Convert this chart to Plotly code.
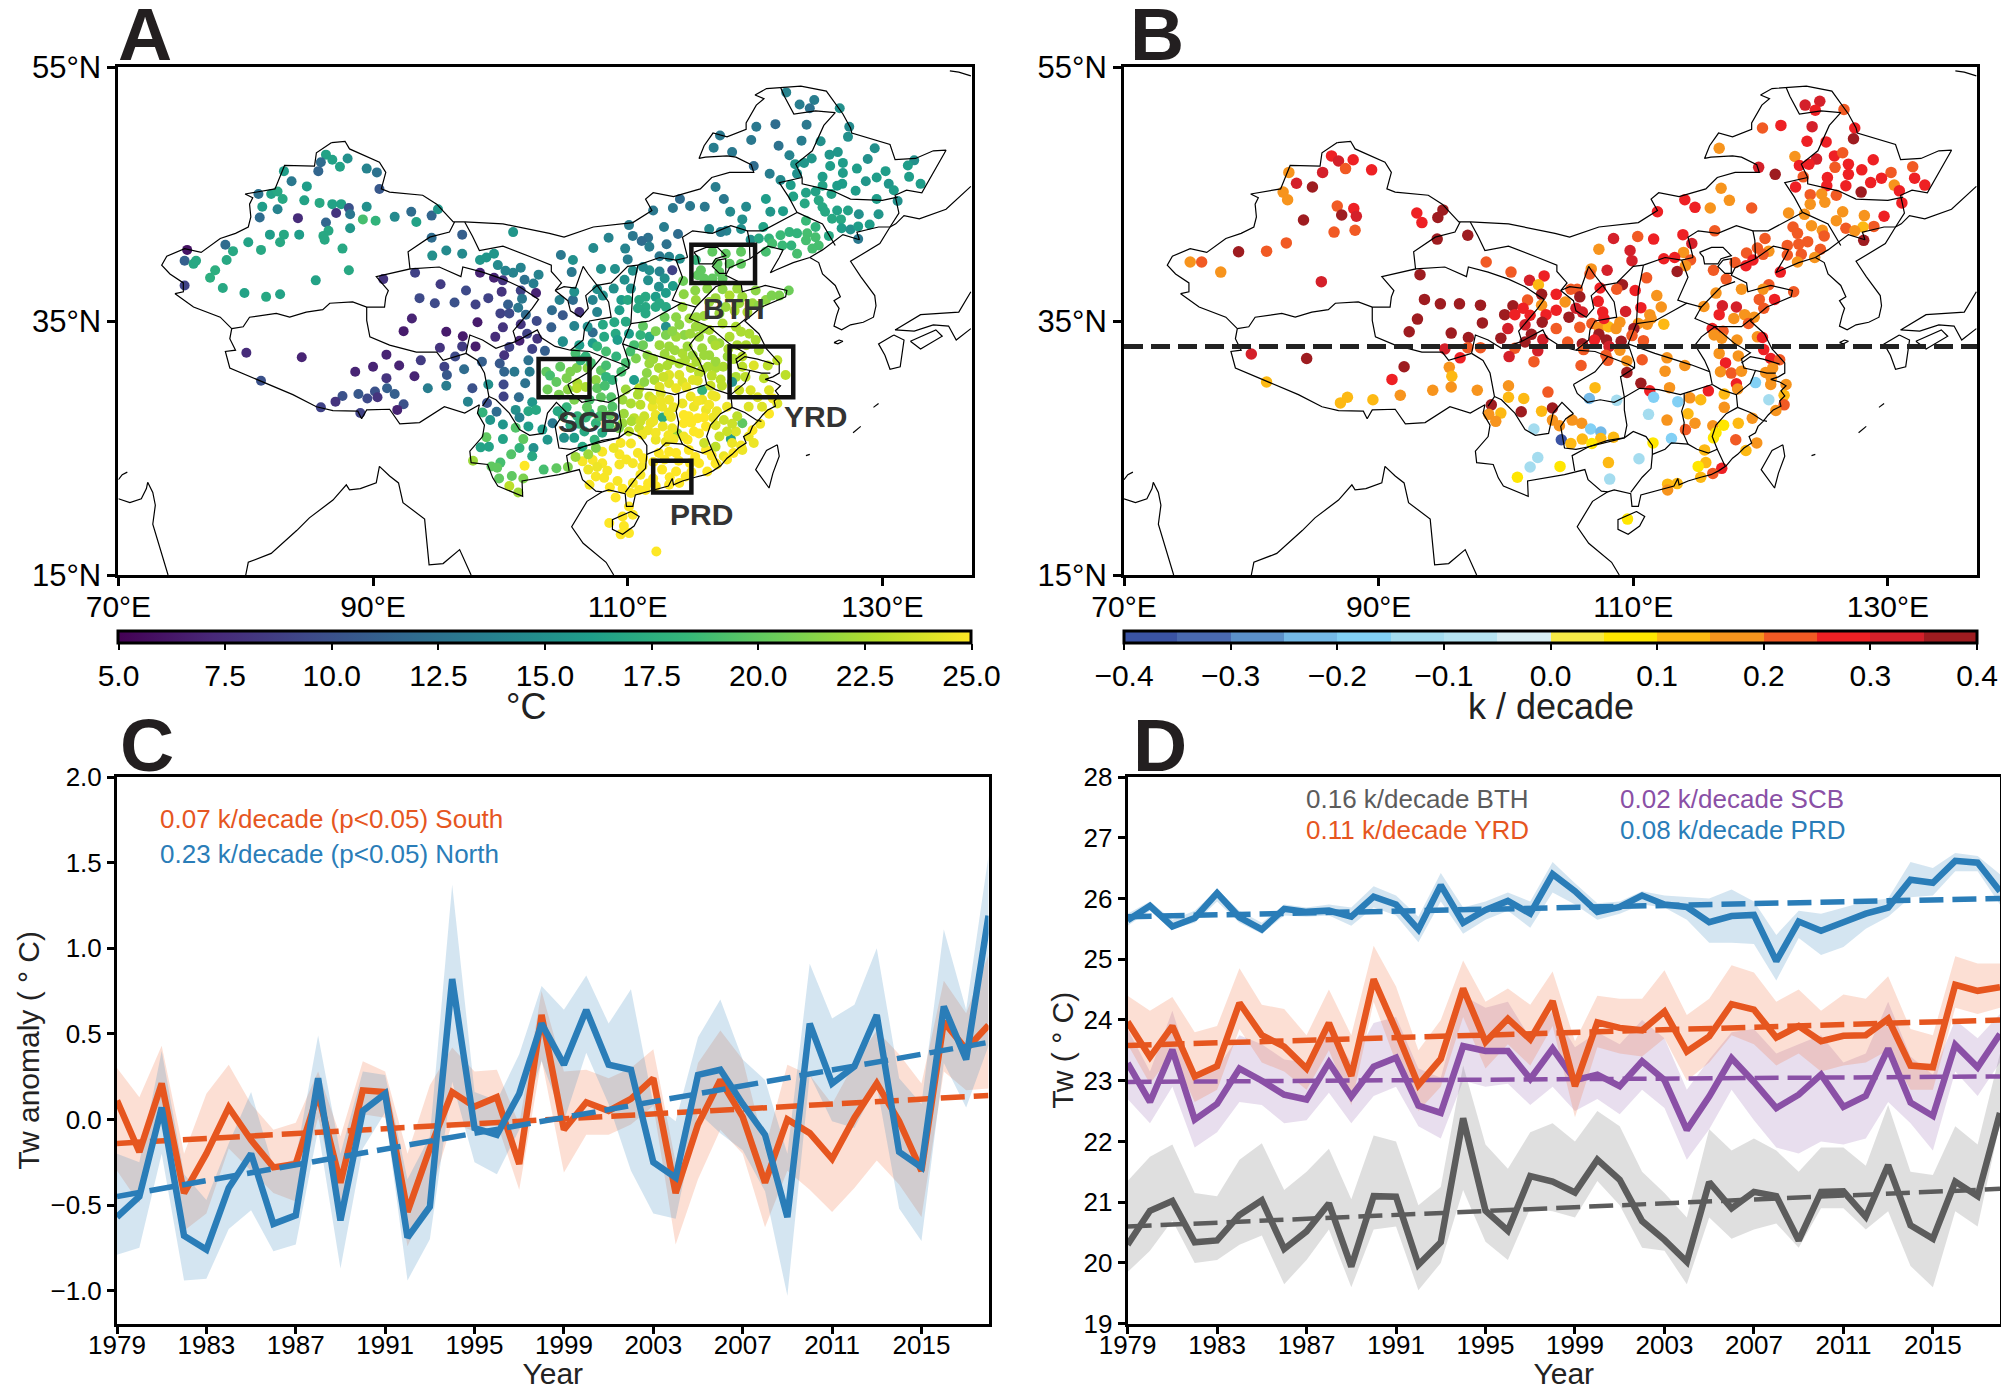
import plotly.graph_objects as go

W, H = 2001, 1390
YEARS = list(range(1979, 2019))

# ---------- panel A stations: (lon, lat, Tw in deg C) ----------
A_XINJIANG = [(86.3,48.1,16.5),(86.8,47.7,16.5),(88.0,47.8,15),(87.4,47.15,16.5),(85.9,47.5,12),(85.7,46.8,11.5),(89.5,47.0,14),(90.3,46.7,12.5),(90.5,45.4,10.5),(83.0,46.8,16),(83.6,46.0,13),(84.8,45.6,16),(81.0,45.0,12.5),(82.0,45.0,16.5),(82.5,45.2,17),(82.9,44.6,17),(84.6,44.5,16.5),(85.8,44.3,17),(86.8,44.2,16.5),(87.5,44.2,16.5),(88.1,43.9,10),(87.1,43.5,8),(88.2,43.4,13),(89.5,44.0,15),(81.3,44.0,16),(82.5,43.8,14),(81.1,43.15,12),(84.1,43.1,7.5),(86.3,42.75,11.5),(89.2,43.0,19),(90.2,42.9,18),(91.7,43.2,14.5),(93.0,43.6,12),(93.4,42.8,16.5),(94.6,43.3,11.5),(95.1,43.8,15.5),(81.9,41.8,16),(83.0,41.8,17),(82.7,41.2,17),(84.2,41.8,16),(86.5,42.1,17),(86.1,41.7,17),(86.2,41.4,17),(88.2,42.3,15.5),(87.6,40.7,17),(88.1,39.0,17),(85.5,38.2,16.5),(80.2,41.2,16.5),(81.2,40.6,17),(78.4,41.0,12),(79.0,40.5,17),(78.5,39.8,17),(75.4,40.6,6),(75.2,39.75,11),(75.9,39.5,17),(76.1,39.75,17),(77.6,39.0,17.5),(77.2,38.4,17.5),(75.2,37.8,9),(78.2,37.6,17),(79.9,37.2,16.5),(81.6,36.9,17),(82.7,37.1,16.5)]
A_PLATEAU = [(94.6,41.55,12),(97.0,41.8,11),(101.0,42.0,15.5),(95.75,40.55,14.5),(94.65,40.15,15),(97.0,40.3,14.5),(98.4,39.8,15.5),(98.9,40.0,15.5),(99.5,40.3,15.5),(99.8,39.4,14.5),(100.4,38.95,14),(101.0,38.8,14),(101.6,39.2,14),(101.9,38.25,12.5),(102.6,37.95,13.5),(103.0,38.65,14),(90.8,38.3,8),(93.3,38.8,9),(95.3,37.9,8.5),(98.4,38.8,7),(99.5,38.4,7),(100.2,38.2,8),(100.1,37.3,8),(97.3,37.4,9.5),(101.6,37.4,9),(102.8,37.2,7),(93.65,36.8,9.5),(94.85,36.4,9.5),(96.4,36.45,10),(98.05,36.3,9),(99.05,36.8,9),(100.6,36.3,11),(101.7,36.75,13),(101.4,36.05,13),(100.0,35.6,9),(100.7,35.6,9.5),(102.0,35.5,12),(102.85,35.0,9.5),(93.05,35.2,7),(98.2,34.9,6.5),(92.4,34.2,6.5),(95.75,34.15,6.5),(101.6,34.75,8),(100.2,34.5,8),(102.1,34.0,9),(97.05,33.8,6.5),(99.6,33.75,7.5),(101.5,33.45,7),(102.9,33.6,8),(95.25,32.9,8),(97.0,33.0,8.5),(98.05,33.0,6.5),(100.7,32.95,9),(102.5,32.8,9),(103.5,32.65,11),(100.3,32.3,8),(96.45,32.2,9.5),(98.55,31.8,11),(99.95,31.65,10.5),(102.2,31.9,12.5),(91.05,32.35,7),(90.0,31.4,7),(92.05,31.5,7),(88.6,31.0,7),(93.75,31.9,8.5),(95.6,31.4,9),(97.15,31.2,12),(100.3,31.0,11.5),(101.1,31.0,13),(102.3,31.0,13.5),(95.8,30.75,10.5),(93.25,30.65,7),(91.05,30.5,8),(80.05,32.5,7.5),(84.4,32.15,7),(81.2,30.3,10),(91.1,29.7,11),(91.7,29.25,11),(90.15,29.45,10),(95.75,29.9,13.5),(94.3,29.7,13.5),(97.8,29.7,10),(99.05,30.0,15),(100.25,30.0,9.5),(101.95,30.1,12.5),(88.85,29.25,10.5),(89.55,28.9,9.5),(90.35,29.0,8),(87.6,29.1,10),(87.05,28.65,8),(85.9,28.2,9),(92.4,28.45,10),(91.9,28.0,7),(89.0,27.75,9),(97.45,28.65,14),(98.95,28.55,10),(100.25,29.05,9),(101.45,29.0,12),(102.5,28.6,15.5)]
A_YUNNAN = [(98.6,27.8,18),(99.2,27.2,15.5),(100.2,26.85,15.5),(99.7,27.85,12),(101.2,28.0,15),(101.5,27.4,14),(102.2,27.9,17),(102.8,28.0,17),(102.2,26.7,16),(103.3,26.45,16),(101.2,26.6,19.5),(98.9,25.85,20),(100.2,25.7,16.5),(101.8,25.7,20),(98.45,25.05,16.5),(99.1,25.1,16.5),(101.5,25.0,18),(102.6,25.0,15),(103.7,25.65,15.5),(100.85,24.5,19.5),(102.5,24.35,17),(100.0,23.85,19),(99.3,23.55,20),(99.75,23.45,20),(97.85,24.0,22),(101.9,23.6,25),(103.4,23.3,19),(99.9,22.6,20),(100.9,22.8,20),(101.8,22.6,21),(100.7,22.0,23),(101.4,21.5,22)]
A_NORTHEAST = [(122.45,53.0,14),(123.5,52.05,13.5),(124.65,52.4,13.5),(124.3,51.75,12.5),(126.65,51.75,15),(120.1,50.3,13),(121.6,50.5,12),(124.05,50.45,13),(127.4,50.3,14.5),(127.3,49.5,15),(117.25,49.6,13),(119.7,49.25,13),(116.75,48.65,13.5),(121.85,48.8,12.5),(123.65,49.2,13.5),(125.15,49.15,15),(129.4,48.6,15),(118.2,48.3,13),(125.85,48.1,15.5),(126.5,48.3,15.5),(122.7,48.05,14),(128.85,47.75,15),(124.45,47.8,15.5),(123.85,47.45,15.5),(123.15,47.35,15.5),(126.9,47.45,16),(119.9,47.2,12),(125.9,47.2,16),(132.5,47.65,15),(132,47.25,16),(128,47,16),(130.25,46.8,16),(121.15,46.6,13.5),(126.9,46.65,16),(125.3,46.35,16),(129.55,46.3,16),(132.1,46.35,16),(128.7,46,15.5),(122,46.1,14.5),(126.85,45.8,16),(126.45,45.65,16),(125.3,45.65,16.5),(122.8,45.7,16),(123.3,46.6,15),(130.5,45.8,15.5),(133,45.8,16),(130.9,45.3,16),(127.9,45.25,16),(116.9,45.55,13.5),(124,45.1,16.5),(124.75,45.2,16.5),(126,45,16.5),(123,44.8,16.5),(120.85,44.6,16),(129.55,44.6,16),(117.55,44.6,13),(114.1,44.6,12),(131.2,44.45,15),(125,44.5,17),(123.9,44.25,17),(125.3,43.95,17),(113.55,43.9,13),(114.9,44.05,13),(116.05,44,13),(119.3,44,14.5),(118.05,43.6,14.5),(112,43.7,13),(121.2,43.6,15.5),(122.2,43.65,16),(125.5,43.6,17),(126.45,43.7,16.5),(127.3,43.7,16.5),(128.15,43.4,15),(119,43,15),(129.7,43.4,15.5),(126.05,43.05,17),(126.75,43,17),(124.75,42.4,18),(124,42.9,18.5),(129,42.6,16),(118.9,42.25,15),(120.65,42.4,16.5),(126.8,42.3,16),(127.5,42.2,15),(128.1,42.45,16),(116.4,42.25,14.5),(117.75,42.1,14),(119.65,41.4,15),(117.3,42,13.5),(125.8,41.7,17),(128.1,41.45,13),(122.7,42,18),(123.3,41.9,18),(122,41.75,18.5),(121.1,41.5,18),(120.3,41.5,17),(124.1,41.9,19),(124.75,41.6,19),(125,40.95,19),(124,41.35,19),(122.85,40.95,18),(122.15,40.95,18.5),(123.3,40.3,19),(124.5,40.7,19),(121.35,41.1,19),(120.85,40.45,19)]
A_NORTH = [(115.75,39,20),(115.5,38.6,20),(116.65,40.45,20),(117.7,40.3,20),(118.9,40.45,20),(117.05,39.5,20),(118,39.5,20),(118.9,39.5,20),(117.2,38.85,20),(116,38.35,20),(116.65,38.35,20),(117.45,38.35,20),(115.35,39.8,18),(114.35,38.15,20.5),(115.3,37.4,21.5),(114.4,37.1,21.5),(116.25,37.55,21.5),(117.45,37.5,21.5),(118.6,37.55,22),(120.05,37.4,21.5),(122.65,37.4,20.5),(121.9,37,21),(120.85,36.65,21.5),(119.8,36.4,22),(118.75,36.4,22),(117.7,36.1,22),(116.4,36.5,22),(115.35,36.65,22),(114.3,36.1,22),(113.8,35.3,21.5),(114.85,35.2,22),(114.05,34.7,21.5),(113,34.55,15),(113,33.9,21),(114.45,33.9,21.5),(113.8,33.75,22),(115.35,34.55,22),(116.4,34.3,22.5),(117.45,34.8,22.5),(118.5,34.55,22.5),(119.55,34,22.5),(118.9,34.15,22.5),(120.05,33.5,22.5),(118,33.75,22.5),(116.65,33.5,22),(115.6,33.75,22),(115.85,32.85,22),(117.2,33.25,22),(116.4,32.3,22),(115.1,32.3,22),(114.3,32.45,22.5),(112.5,33.1,22),(113.25,33,22),(111.7,33.75,17),(111,33.9,18),(110.1,34,16)]
A_LOESS = [(111.7,39,15),(110.4,38.95,15),(112.5,38.9,14),(112.9,38.35,15),(109.75,38.25,15),(108.9,37.55,15),(110.25,37.55,15),(111.6,38.2,15),(112.45,37.7,15),(107.6,37.5,15),(113,37.2,16),(112.2,36.9,16),(111.4,36.9,17),(110.9,36.65,17),(109.5,36.65,16),(110,36.65,17),(112.5,36.4,17),(113,36.1,17),(111.4,36.1,17),(112.2,36.1,17),(110.8,36,17),(109.35,35.85,16),(111.4,35.6,17),(107.25,36.65,14),(108.05,37,15),(107.6,35.7,14),(105.7,36.65,12),(104.9,35.45,10.5),(106.2,35.7,8),(105.8,34.6,14),(104.05,35.85,12),(104.65,36.65,14),(104,34.5,11),(107.25,34.1,12),(106.85,34.55,15),(108.05,34.7,17),(108.95,34.9,17),(109.85,34.95,17),(109.05,34,17),(108.15,33.75,17),(109.2,33.5,16),(107.25,33.25,16),(104.9,33.35,15),(106.2,33.1,16),(105.8,37.3,15),(105.6,38.85,13),(107.9,39.1,15),(109,39.1,15),(104.75,40.2,13),(105.7,39.8,15),(107.3,40.75,14.5),(109.8,40.7,14),(110,39.85,13.5),(108.5,41.55,14),(110.4,41.7,13),(111.6,41.55,12.5),(111.1,41.3,12),(111.7,40.85,13.5),(113.05,41.05,12.5),(110.1,42.55,13.5),(112.85,42.4,13.5),(113.95,41.85,12),(112.5,40.1,13),(113.25,40.05,14),(114.1,39.9,15),(111.2,39.25,14.5),(113.5,39,9),(113.55,37.75,16)]
A_CENTRAL = [(104.9,33.4,15),(105.9,32.45,19),(106,31.3,21),(106.85,31.3,21.5),(104.7,31.4,20),(103.6,31,20),(103.7,29.6,20.5),(106.05,30.1,22.5),(106,29.7,23),(106.7,29.8,22.5),(107.5,30.35,21.5),(107.9,31.1,20),(108.3,31.5,19),(107.1,31.7,19),(109.5,31,19),(108.8,30.35,18),(110.5,30.35,16),(109.85,31.7,19),(110.65,32.05,21),(111.55,32.3,21.5),(111.7,31.65,22),(112.45,31.3,22.5),(113.1,31.5,22.5),(114.05,31.65,22.5),(114.95,31.3,23),(113.25,30.75,24),(112.1,30.35,22.5),(114.05,30.75,24),(114.3,30.2,24),(113.25,30.1,24),(115.1,30.35,24),(115.85,31.15,22.5),(116.9,31.3,22.5),(116,32.3,22),(116.9,31.8,22),(117.85,32.2,22),(119,32.2,23),(119.9,31.5,24),(119,31.4,23),(121,31.5,23),(121.75,31.9,23),(118.5,30.6,22.5),(119.25,30.6,23),(120.7,30.5,23),(118.2,30.2,15),(122.4,30.75,23),(118.75,29.55,23.5),(119.65,29.55,24),(121.1,29.55,24),(120.2,29,24),(121.75,28.5,24),(119.5,28.25,24),(120.55,28.25,24),(121.1,27.7,25),(117.8,28.25,24.5),(116.9,29.05,24.5),(115.85,29.55,18),(114.95,29.05,24.5),(115.85,28.8,24.5),(116.65,29.15,24.5),(114.3,28.5,24.5),(115.2,28.25,24.5),(116.15,28,24.5),(114.8,27.5,25),(115.5,27.35,25),(114.4,26.95,25),(116.15,26.7,25),(115.6,26.15,25),(114.7,25.65,25),(113.9,26.15,22),(116.9,26.8,24),(117.55,27.2,23.5),(119,26.95,20),(118.1,25.7,16),(116.9,25.1,23),(117.55,24.35,24.5),(118.5,26.3,24),(119.5,25.9,24.5),(119.9,25.4,24.5),(119,24.85,24.5),(118.2,25.4,24.5)]
A_SOUTH = [(116.15,24.85,25),(115.6,23.8,25),(116.9,23.8,25),(116.25,23.15,25),(114.8,24.85,25),(113.8,24.6,25),(113.25,24.7,25),(112.45,24.6,25),(112.7,23.3,25),(113.8,23.15,25),(114.55,22.75,25),(112.2,22,25),(113.25,22.1,25),(114.05,22.25,25),(111.4,21.7,25),(110.25,21.45,25),(109.05,21.1,25),(110.1,20.4,25),(109.6,19.6,25),(110.4,19.75,25),(108.55,19.1,25),(109.7,18.85,25),(109.45,18.2,25),(110.1,18.3,25),(112.25,16.85,25),(106.45,23.95,24.8),(107.25,24.05,24.8),(108,24.7,24.8),(108,23.8,24.8),(109.35,24.5,24.8),(110.25,25.35,24.8),(109.45,25.4,24.8),(109.35,23.7,24.8),(110.4,23.8,24.8),(107.5,22.75,24.8),(108.15,22.65,24.8),(109.2,22.4,24.8),(110.4,22.25,24.8),(107,22.1,24.8),(111.15,23.55,24.8),(111,22.9,24.8),(109.85,29.6,22),(110.9,29.7,23),(109.6,28.8,22),(110.25,28.5,22.5),(111,28.4,23),(111.7,29.05,23.5),(112.6,29.3,24),(113.25,28.8,24.5),(111.95,28.25,24.5),(112.7,28.25,24.5),(109.7,27.7,22),(110.5,27.35,23),(111.3,27.5,23.5),(112.2,27.6,24.5),(112.75,27.4,17),(113.4,27.45,24.5),(109.6,26.95,22),(110.9,26.55,23.5),(111.8,26.95,24.5),(112.75,26.7,24.5),(113.5,26.55,24.5),(110.1,26.3,23),(111.15,26.05,24.5),(112.2,25.65,24.5),(113,25.5,24.5),(104.9,27.5,18),(106.05,27.5,18),(107,27.75,18),(108,28,20),(104.1,26.95,13),(105,25.8,15),(105.8,25.8,16),(105.5,26.8,17),(106.6,26.3,17),(107.4,25.65,18),(108,26.2,17),(108.55,26.8,19),(107.5,26.95,18),(106.45,25.1,17),(107.9,29,20),(107,28.8,19),(108.7,29,19.5),(108.8,28.25,19.5),(109.3,26.55,21)]
A_MID_FILL = [(112.2,34.2,21),(111.2,34.6,20),(112.9,35.3,20.5),(113.5,34.2,21.5),(114.9,34,22),(115.9,34.4,22),(116.9,33.1,22.5),(117.9,32.8,22.5),(118.6,33.1,22.5),(119.3,33.1,22.5),(120.3,32.7,22.5),(114.7,33,22),(113.7,32.7,22),(112.9,32.4,22),(111.2,33.1,20.5),(110.5,33.1,19),(110.2,32.6,19),(112,32,22),(113.4,31.9,22.5),(114.5,31.9,22.5),(115.4,31.8,22.5),(117.5,31.4,22.5),(118.3,32,22.5),(116.3,31.4,22.5),(115.6,30.9,23),(116.6,30.7,23),(117.3,30.4,23),(117.4,29.9,23),(116.5,29.9,23.5),(115.5,30.3,24),(112.8,30.6,23.5),(111.5,30.9,21.5),(111.3,30.2,21.5),(112.5,29.8,24),(113.8,29.7,24.5),(114.6,29.8,24.5),(110.8,29.2,22.5),(112,28.8,24),(112.6,28.7,24.5),(113.6,28.2,24.5),(113.2,27.8,24.5),(112,27.1,24.5),(110.3,27.1,22.5),(111,27.1,23.5),(111.6,26.4,24.5),(112.2,26.2,24.7),(113.2,26,24.7),(113.6,25.7,24.7),(114.4,27.6,25),(115,27,25),(115.5,28.7,24.7),(116.4,28.4,24.7),(117,27.9,24.5),(116.7,27.4,24.5),(116,27.4,25),(115.2,26.3,25),(114.4,25.9,24.7),(116,25.4,23.5),(117.2,25.9,23.5),(117.8,26.3,23.5),(118.2,26.9,23.5),(118.6,27.5,23)]
A_COAST_FILL = [(112,23.9,25),(112.9,24.1,25),(114,24,25),(114.9,23.8,25),(115.3,24.3,25),(116.6,24.4,25),(117,23.7,25),(115,23.1,25),(113.3,22.7,25),(112,22.6,25),(111.6,22.2,25),(110.9,21.7,25),(109.6,21.8,25),(108.6,21.9,25),(108.4,23.2,24.8),(106.9,23.3,24.5),(107.6,23.5,24.5),(109.9,24.1,24.8),(110.8,24.6,24.8),(111.2,24.2,25),(108.9,25,24.5),(107.5,25,21),(106.9,24.5,22),(105.9,24.3,22),(105.3,23.5,21),(104.4,23.4,20),(120.4,26.9,24.7),(119.8,26.4,25),(118.9,25.2,24.7),(118.3,24.6,25),(117.8,24.1,25),(121.4,28.9,24.7)]
A_BASIN_FILL = [(103.9,30.7,19),(104.4,30.2,20),(105.2,30.5,21),(105.5,31,21),(105.3,29.6,21.5),(104.6,29.2,21),(105.8,28.8,21),(106.8,28.2,20),(107.8,27.5,19),(108.6,27.6,20),(106.2,26.9,18),(106.7,27.4,18),(104.5,27.9,17),(105.2,28.2,18),(108.3,30.6,18),(107.6,29.7,20),(108.2,29.9,19),(108.3,32.6,19),(109.1,32.2,18),(107.6,33,18),(106.7,32.2,18),(106.3,31.9,18),(116.9,36.8,22),(118,37,22.5),(119,36.9,22),(117.2,35.6,22),(116,35.4,22),(118.4,35.8,22.5),(119.4,35.7,22.5),(120.3,36.2,21.5),(121.3,37,21),(115.4,35.3,22)]

# ---------- panel B stations: (lon, lat, trend in K per decade) ----------
B_WEST = [(86.3,48,.27),(86.85,47.6,.32),(88,47.7,.27),(87.4,47,.22),(89.45,46.9,.27),(85.6,46.7,.32),(82.95,46.7,.17),(83.55,45.85,.32),(84.8,45.55,.37),(82.5,45.15,.17),(82.85,44.55,.17),(86.75,44.05,.22),(88.05,43.85,.27),(87.1,43.35,.37),(88.25,43.25,.32),(84.1,42.95,.37),(86.5,42,.22),(88.15,42.15,.22),(82.75,41.15,.22),(81.2,40.5,.22),(79,40.45,.37),(75.2,39.65,.17),(76.1,39.65,.22),(77.6,38.85,.17),(85.5,38.1,.32),(93,43.5,.27),(93.4,42.75,.27),(95.05,43.75,.37),(94.65,43.15,.37),(94.6,41.45,.37),(97,41.75,.37),(98.45,39.65,.22),(93.25,38.65,.37),(100.4,38.85,.22),(101.85,38.2,.32),(103,38.55,.27),(102.55,37.85,.12),(93.6,36.7,.37),(94.85,36.35,.37),(96.35,36.35,.37),(98,36.25,.37),(102.8,37.1,.37),(101.7,36.65,.22),(100.55,36.2,.37),(102.8,36.25,.17),(101.35,36,.27),(99.9,35.5,.37),(100.7,35.5,.27),(101.9,35.45,.27),(103.15,35.5,.27),(102.85,34.9,.37),(93.05,35.15,.37),(98.15,34.85,.37),(92.4,34.15,.37),(95.7,34.05,.37),(101.5,34.7,.32),(100.15,34.4,.32),(97.05,33.7,.37),(99.6,33.65,.37),(102,33.95,.37),(101.5,33.35,.37),(102.9,33.55,.32),(95.2,32.8,.32),(97,32.9,.22),(98,32.9,.22),(100.7,32.85,.22),(102.5,32.65,.32),(100.25,32.2,.32),(102.2,31.8,.22),(80,32.4,.32),(84.35,32.05,.37),(96.4,32.1,.27),(92,31.4,.37),(95.55,31.35,.17),(95.75,30.65,.12),(91.05,30.4,.27),(81.2,30.2,.12),(95.7,29.8,.17),(94.25,29.55,.17),(97.75,29.55,.17),(91.7,29.15,.17),(100.2,29.9,.17),(100.2,29,.12),(101.4,28.9,.12),(103.3,29.4,.22),(87.55,29,.12),(87,28.55,.12),(89.55,28.8,.12),(98.85,28.4,.37),(99.6,27.75,.12),(98.65,27.65,.17),(99.2,27.1,.17),(101.2,27.85,.37),(102.8,27.9,.12),(102.2,26.5,-.12),(102.5,24.25,-.12),(101.9,23.5,-.12),(100.9,22.7,.08)]
B_NORTHEAST = [(123.5,52,.32),(124.65,52.3,.32),(124.3,51.6,.27),(126.55,51.65,.22),(120.15,50.2,.22),(121.6,50.4,.27),(124.05,50.3,.32),(127.4,50.2,.27),(127.3,49.35,.37),(123.65,49.15,.27),(125.15,49.1,.27),(116.75,48.6,.17),(122.7,47.95,.17),(125.8,48,.27),(126.45,48.25,.22),(128.85,47.7,.27),(124.4,47.75,.32),(123.8,47.35,.27),(123.05,47.25,.27),(126.9,47.35,.27),(125.85,47.1,.22),(119.85,47.1,.32),(127.95,46.9,.27),(130.25,46.7,.22),(131.95,47.15,.22),(121.15,46.55,.37),(126.9,46.55,.27),(123.35,46.35,.22),(125.25,46.3,.27),(129.5,46.25,.27),(132.1,46.25,.27),(128.65,45.9,.27),(125.2,45.65,.27),(126.7,45.65,.27),(122.75,45.55,.27),(130.5,45.7,.17),(132.9,45.7,.27),(116.9,45.45,.17),(130.9,45.25,.27),(127.9,45.15,.37),(123.9,44.95,.22),(124.8,45,.17),(125.95,44.9,.22),(114.05,44.55,.27),(117.55,44.5,.17),(123.9,44.2,.17),(125.05,44.35,.17),(131.1,44.3,.27),(114.85,43.95,.27),(116.05,43.9,.17),(119.3,43.9,.22),(111.9,43.6,.27),(122.2,43.5,.17),(123.45,43.4,.17),(126.45,43.6,.17),(128.15,43.3,.17),(129.7,43.25,.27),(125.95,42.9,.17),(122.55,42.4,.22),(124,42.5,.17),(124.85,42.15,.17),(126.7,42.3,.22),(128.9,42.45,.22),(128.05,42.4,.12),(127.4,42.1,.17),(116.4,42.1,.22),(113.9,41.8,.27),(122.9,41.9,.22),(125,41.7,.22),(120.35,41.5,.22),(108.45,41.5,.32),(110.35,41.65,.22),(111.6,41.45,.27),(128.1,41.35,.37),(114.6,41.1,.32),(107.3,40.65,.17),(122.1,40.95,.22),(123.7,41.25,.22),(123,41.05,.22),(119.75,40.75,.22),(120.65,40.5,.17),(124.7,40.65,.22)]
B_NORTH = [(109.75,40.55,.32),(113.95,40.4,.17),(118.9,40.35,.22),(122.1,40.2,.22),(123.2,40.25,.22),(120.2,40.25,.22),(109.9,39.75,.32),(112.4,39.9,.27),(113.25,40,.27),(114.5,39.8,.22),(118,39.6,.22),(119.4,39.8,.27),(118.85,39.35,.27),(124.25,40,.17),(122.9,39.65,.17),(114.1,39.35,.17),(106.7,39.1,.17),(107.95,39,.32),(106.6,38.7,.22),(113.45,38.9,.37),(116.3,39,.22),(121.55,38.85,.27),(111.05,38.4,.22),(117.3,38.3,.22),(109.15,37.85,.37),(108.7,37.5,.22),(107.4,37.6,.27),(110.15,37.4,.27),(120.65,37.85,.22),(120.2,37.5,.17),(118.5,37.5,.17),(116.5,37.2,.17),(122.6,37.3,.22),(105.1,37.5,.22),(105.6,37.5,.22),(105.8,36.9,.37),(111.85,37,.17),(104.65,36.5,.17),(103.95,37.1,.27),(107.25,36.55,.27),(119.9,36.7,.22),(121.1,36.7,.27),(112.2,36.1,.17),(115.55,36.15,.17),(117,36.2,.32),(118.1,36.1,.32),(109.4,35.75,.32),(110.6,36.05,.27),(120.25,36,.22),(107.6,35.7,.27),(103.95,35.85,.27),(105.5,36,.32),(106,35.7,.32),(116.75,35.5,.27),(111.3,35.5,.17),(108.95,34.9,.17),(111.4,35.2,.17),(118.75,35.5,.17),(119.5,35.3,.17),(117.9,35.2,.17),(104.95,35.3,.37),(110.4,34.8,.17),(111.1,34.75,.17),(112.4,34.75,.12),(119.05,34.8,.22),(103.95,34.4,.22),(105.8,34.5,.22),(106.75,34.8,.22),(107.3,34.5,.17),(108.05,34.55,.12),(107.7,35.2,.27),(108.65,34.4,.17),(116.2,34.4,.27),(117.05,34.2,.22),(110.05,34.4,.37)]
B_CENTRAL = [(116.35,33.9,.17),(116.95,33.65,.17),(118.15,33.5,.17),(119.75,33.75,.17),(120.15,33.7,.27),(104.85,33.35,.22),(107.3,33.95,.37),(106.95,33.5,.27),(107.9,33.5,.37),(109.05,33.4,.37),(109.9,33.85,.22),(110.8,33.45,.22),(106,33.2,.37),(108.1,33,.32),(106.1,32.75,.22),(120.25,32.75,.27),(116.75,32.45,.17),(118.25,32.25,.17),(120.8,32.05,.27),(107.85,32.3,.22),(108.95,32.7,.17),(121.5,31.95,.22),(108,31.9,.22),(110.7,31.95,.22),(112.65,32.1,.17),(109.5,31.85,.17),(105.9,31.5,.22),(117.25,31.7,.27),(114.05,31.5,.17),(120.95,31.3,.17),(112.5,31.05,.17),(116.85,31,.17),(117.7,30.9,.22),(118.5,31.05,.17),(109.5,30.95,.37),(120.4,30.95,.17),(120.85,30.5,.17),(110.6,30.1,.37),(119.6,30.15,-.2),(118.1,30.05,.27),(120.8,30,.17),(122,30,.17),(112.85,29.75,.17),(118.2,29.65,.17),(107,29.75,.12),(111.3,29.5,.27),(115.9,29.5,.27)]
B_SOUTH = [(111.6,29,-.2),(106.55,28.9,-.25),(108.7,28.75,-.15),(114.45,28.95,.17),(113.5,28.65,-.2),(115.3,28.8,.12),(117.15,29.25,.12),(121.85,29.15,.12),(120.65,28.8,-.15),(121.85,28.4,.22),(103.65,28.15,.37),(117.15,28.2,.17),(121.2,27.95,.17),(114.3,27.7,.12),(111.2,27.65,-.15),(119.35,27.35,.17),(105.2,27.2,.17),(105.95,26.95,.17),(103.65,27.2,.17),(104.2,26.75,.17),(112.65,27.2,.17),(114.85,26.95,.17),(116.25,26.75,.17),(117.1,26.8,.08),(118.25,26.95,.12),(106.65,26.5,-.2),(107.45,26.25,-.25),(114.1,26.45,.22),(116.5,26.2,.08),(116.3,25.8,.08),(104.35,25.65,-.38),(106,25.7,.12),(105.1,25.35,.12),(107.45,25.75,.12),(108.45,25.85,.12),(106.75,25.35,.08),(111.55,25.4,.08),(113,25.75,-.2),(118.05,25.65,.22),(119.7,25.4,.17),(115.6,24.85,.12),(118.85,24.8,.12),(104.25,23.55,.08),(108.05,23.85,.12),(110.45,24.15,-.15),(115.7,23.85,.12),(115.1,23.55,.08),(116.95,23.4,.27),(116.25,23,.22),(115.3,22.7,.12),(108.15,22.55,-.15),(112.7,22.15,.12),(113.45,22.2,.12),(112.7,21.7,.17),(109.55,19.4,.08)]

# ---------- base map lines (lon, lat) ----------
BORDER_WEST = [(86.75,49.05),(85.55,48.25),(85.4,47.2),(83.05,47.25),(82.3,45.4),(79.95,45),(80.55,44.7),(80.3,44.2),(80.4,43.2),(80.2,42.4),(79.2,41.9),(78,41.5),(76.5,40.4),(75.2,40.7),(73.8,40.1),(73.4,39.4),(74.05,38.7),(75.1,38),(75.1,37.3),(74.45,37.15),(75.9,36.1),(78,35.3),(78.9,34.4),(78.75,33.6),(79.2,32.7),(78.4,32.6),(78.75,31.3),(80.05,30.75),(81.25,30.2),(83.7,29.2),(85.55,28.25),(86.85,27.95),(88.8,27.9),(89.1,27.3),(89.5,28),(91.3,28.05),(92.1,26.9),(93.65,27),(95.6,28.25),(97.2,27.75),(98.35,28.4),(98.2,27.75),(98.75,26.8),(98.6,25.9),(97.6,24.75),(97.7,23.85),(99,23.7),(99.4,22.65),(99.8,22),(101.1,21.45),(101.75,21.2),(101.7,22.4),(103,22.6),(104.6,22.9),(106.2,23.3),(106.45,22.5),(107.5,21.6),(108,21.55)]
BORDER_NORTH = [(86.75,49.05),(87.8,49.15),(88.15,48.55),(89.6,47.9),(90.5,47.5),(91,46.7),(90.65,45.4),(91.3,45.15),(93.9,44.9),(95,44.2),(96.3,42.8),(97.2,42.8),(100.2,42.65),(103.85,41.9),(105,41.6),(107.3,42.4),(110.4,42.75),(111.9,43.7),(111.4,44.6),(112,45.1),(113.6,44.8),(115.7,45.4),(116.6,46.3),(118,46.7),(119.9,46.7),(119.7,47.3),(118.5,47.9),(117.8,48),(116.1,47.9),(115.6,47.8),(116,48.8),(116.7,49.8),(117.8,49.5),(119.3,50.1),(119.3,50.6),(120.1,52),(120.7,52.5),(120,52.8),(120.9,53.3),(123.6,53.5),(125.6,53.1),(126.9,51.3),(127.5,50.2),(127.6,49.8),(129,49.4),(130.6,48.9),(131,47.7),(132.6,47.8),(134,48.4),(135,48.45),(133.1,45.1),(131.9,45.3),(131,44.9),(131.3,43.5),(130.6,42.4),(129.7,42.4),(128,42),(128.2,41.4),(126.9,41.8),(125.3,40.6),(124.3,40)]
COAST_CHINA = [(124.3,40),(123,39.6),(121.6,39),(121.2,38.8),(121.9,40),(122.2,40.6),(121,40.9),(119.6,39.9),(118,39.2),(117.7,38.6),(118.9,38),(119,37.3),(120.8,37.8),(122.5,37.4),(122.4,36.9),(120.5,36.1),(119.2,35),(120.3,34),(120.9,32.8),(121.9,31.7),(121.9,30.9),(121.4,30.6),(120.8,30.4),(121.5,30.2),(122,29.9),(121.6,29.5),(121.9,29.1),(121.5,28.7),(121.6,28.3),(121,28),(120.6,27.6),(120.2,27.1),(119.8,26.7),(119.6,26.2),(119.1,25.9),(119.3,25.4),(118.7,25),(118.2,24.5),(117.8,24.2),(117.3,23.6),(116.7,23.2),(116.1,22.9),(115.3,22.7),(114.3,22.4),(113.6,22.1),(113.5,22.6),(113.2,22),(112,21.7),(110.6,21.3),(110.4,20.4),(109.9,20.4),(109.8,21.4),(108.5,21.7),(108,21.55)]
COAST_VIETNAM = [(108,21.55),(106.8,20.8),(105.6,18.8),(106.5,17.5),(108.3,16),(108.9,15)]
COAST_INDIA = [(73.9,15),(73.3,17),(72.7,19),(72.9,20.5),(72.7,21.5),(72.3,22.3),(72.2,21.8),(71.8,21),(70.9,20.7),(70,21)]
COAST_KUTCH = [(70,22.5),(70.3,22.9),(70.7,23.1)]
COAST_BENGAL = [(80,15),(80.2,16),(82,16.7),(84,18.5),(85,19.5),(86.85,20.9),(87.9,22.1),(88.15,21.7),(89,21.8),(90.25,22.25),(90.5,23.55),(91.3,22.8),(92,22.25),(92.35,20.7),(94.05,19.4),(94.4,15.8),(95.5,15.9),(96.8,17),(97.7,15)]
COAST_KOREA = [(124.3,40),(125,39.6),(125.3,38.7),(126.3,37.8),(126.7,36.9),(126.2,36.6),(126.6,36),(126.4,35.4),(126.2,34.6),(126.8,34.3),(127.5,34.7),(128.5,34.9),(129.3,35.3),(129.5,36.2),(129.4,37),(128.3,38.5),(127.5,39.7),(128.5,40.3),(129.8,41.1),(130.6,42.4)]
COAST_RUSSIA = [(130.6,42.4),(131.05,42.65),(131.7,43.3),(132.9,43.05),(135,43.8),(136.95,45.6)]
COAST_OKHOTSK = [(135.3,54.7),(136,54.6),(136.95,54.3)]
ISLE_HONSHU = [(136.95,37.3),(136,35.7),(133,35.5),(131,34.3),(132.5,34.2),(134,34.7),(135.2,34.6),(135.8,33.5),(136.95,34.4)]
ISLE_SHIKOKU = [(132.2,33.4),(134.2,34.3),(134.7,33.8),(133,32.8),(132.2,33.4)]
ISLE_KYUSHU = [(130.9,33.9),(131.7,33.5),(131.4,31.4),(130.6,31.2),(130.2,32.3),(129.7,33.2),(130.9,33.9)]
ISLE_CHEJU = [(126.2,33.3),(126.6,33.5),(126.9,33.4),(126.5,33.2),(126.2,33.3)]
ISLE_TAIWAN = [(121.75,25.25),(121.9,24.35),(121.4,23),(121.1,21.85),(120.05,23.3),(120.9,24.8),(121.75,25.25)]
ISLE_HAINAN = [(110.25,20),(110.9,19.6),(110.5,18.85),(109.6,18.2),(108.8,18.6),(108.8,19.35),(110.25,20)]
ISLE_RYUKYU = [(127.7,26.2),(128.3,26.7)]
ISLE_AMAMI = [(129.3,28.2),(129.7,28.5)]
ISLE_SAKISHIMA = [(124,24.4),(124.3,24.5)]
YANGTZE = [(118.5,31.7),(119.2,32.2),(120.2,32),(121.5,31.6)]

P_XJ_TIBET = [(78.9,34.4),(79.8,34.55),(80.3,35.3),(82.4,35.6),(83.45,35.3),(84.75,35.7),(86.05,35.9),(86.6,36.4),(88.4,36.5),(89.5,36.1),(90.9,36.1),(91,36.9),(91.2,37.4),(90.25,38.5),(92.9,39.1),(92.75,40.45),(94.45,41.6),(96,42),(96.4,42.8)]
P_GANSU_QINGHAI = [(92.9,39.1),(95.2,39.25),(96.9,38.5),(97.05,39.25),(98.6,38.85),(100.2,38.3),(101.5,37.7),(103,36.7),(102.5,36),(102,35.4),(101,34.2),(101.25,33.4)]
P_GANSU_IM = [(97.2,42.8),(97.8,41.7),(98.35,40.55),(100.2,40.9),(102.5,40),(104,39.4),(104,38.9),(104.8,38),(104.3,37.4)]
P_TIBET_QINGHAI = [(89.5,36.1),(89.5,35.05),(89.75,33.75),(91.3,33.1),(93.4,32.55),(95,32.55),(95.5,31.9),(97.3,32.45)]
P_TIBET_SICHUAN = [(97.3,32.45),(98.2,31.9),(98.75,30.9),(99.1,29.05),(98.6,28.3)]
P_QINGHAI_SICHUAN = [(97.3,32.45),(97.6,33.9),(98.6,33.5),(99.65,32.85),(101.25,33.4)]
P_SICHUAN_GANSU = [(101.25,33.4),(102.9,34.3),(103.2,33.7),(104.3,33),(105.5,32.7)]
P_SICHUAN_SHAANXI = [(105.5,32.7),(107,32.6),(108,32.2)]
P_SICHUAN_YUNNAN = [(99.1,29.05),(99.65,28.8),(100.7,27.75),(101.5,26.45),(102.3,26),(103.35,26.15),(103.7,27.75),(104.4,28.6),(105.3,27.7)]
P_NINGXIA = [(104.3,37.4),(105,37.7),(105.9,37.6),(106.5,39.3),(106.9,38.7),(107.6,37.8),(106.7,37),(106.9,36),(106.3,35.3),(105.5,35.8),(105.3,36.6),(104.3,37.4)]
P_GANSU_SHAANXI = [(105.5,32.7),(106.5,33.5),(106.6,34.3),(107,35),(108.7,35.3),(108.5,36.5),(107.6,37.8)]
P_SHAANXI_IM = [(107.6,37.8),(108.7,38),(110,39.3),(110.8,39.4)]
P_SHAANXI_SHANXI = [(110.8,39.4),(110.4,37.4),(110.25,34.8)]
P_SHANXI_IM = [(110.8,39.4),(112.5,40),(113.8,39.8),(114.7,40)]
P_HEBEI_IM = [(114.7,40),(114.3,41.6),(115.1,42.1),(116.65,41.9),(118.1,42.5),(119.4,42.1),(120.6,42.1),(123.3,43.55)]
P_HEBEI_LIAONING = [(119.4,42.1),(119.55,41.35),(119.6,39.9)]
P_HEBEI_SHANXI = [(113.8,39.8),(114.3,38.45),(113.5,36.65),(114.2,36.4)]
P_SHANXI_HENAN = [(110.25,34.8),(111.7,35),(113.5,36),(114.2,36.4),(115.35,36.1),(116.15,36.9),(116.9,37.7),(118,38.1)]
P_HENAN_SHANDONG = [(115.35,36.1),(114.85,35.2),(116.4,34.55),(118.5,34.55),(119.3,35.2)]
P_BEIJING = [(115.2,40.4),(116.15,40.8),(117.05,40.8),(117.7,40.15),(116.9,39.9),(116.65,39.5),(115.6,39.5),(115.5,40.05),(115.2,40.4)]
P_TIANJIN = [(117.05,39.8),(117.7,39.9),(117.7,38.75),(117.2,38.75),(116.65,39.3),(117.05,39.8)]
P_HENAN_ANHUI = [(116.4,34.55),(115.35,33.75),(114.85,33.1),(115.6,31.9),(116,31)]
P_HENAN_HUBEI = [(110.25,34.8),(109.6,33.2),(111.7,32.45),(114.55,31.55),(116,31),(116.2,30)]
P_HUBEI_WEST = [(109.6,33.2),(110.1,31.7),(110.1,31.3),(109,30.6),(109.3,29)]
P_CHONGQING = [(105.3,30),(106.3,30.6),(107,31),(108,32.2),(109.6,31.6),(110.1,31.3)]
P_CHONGQING_S = [(105.3,30),(105.6,29.3),(106.4,28.6),(107.4,28.8),(108.5,28.6),(109.3,29)]
P_GUIZHOU = [(105.3,27.7),(104.7,27.3),(104.3,26.7),(104.6,25),(105.5,24.9),(106.5,25.1),(108,25.6),(109.3,25.8),(109.5,26.8),(109.3,28),(109.3,29)]
P_GUANGXI = [(105.4,23.2),(105.2,24.4),(106.5,25.1),(109.3,25.8),(110,26.3),(111,25.9),(111.5,25.2),(111.5,24.5),(111.4,23.4),(110.7,22.7),(109.8,21.5)]
P_GUANGDONG = [(111.5,24.5),(112.5,24.9),(113,25.4),(114.3,25.3),(115,24.9),(115.9,24.6),(116.6,24.9),(117.2,23.6)]
P_HUNAN_JIANGXI = [(114.3,25.3),(113.9,26.2),(114,27),(113.8,27.9),(114,28.5),(114,29.3)]
P_HUBEI_S = [(109.3,29),(110.5,29.7),(112,29.6),(113.7,29.2),(114,29.3),(115.5,29.8),(116.2,30)]
P_JIANGXI_FUJIAN = [(116.6,24.9),(116.2,25.9),(116.5,26.8),(117.3,27.7),(118.2,28.2)]
P_JIANGXI_ANHUI = [(118.2,28.2),(118.1,29.2),(116.9,29.6),(116.2,30)]
P_ZHEJIANG_FUJIAN = [(118.2,28.2),(119.2,27.8),(120.1,27.2),(120.5,27.1)]
P_ZHEJIANG_ANHUI = [(118.1,29.2),(119.2,30.1),(119.6,31.1),(120.5,30.9),(121.2,30.9)]
P_ANHUI_JIANGSU = [(119.6,31.1),(118.7,31.3),(118.5,32),(119.2,32.5),(118,33.2),(116.4,34.55)]
P_IM_HEILONG = [(122,53.4),(122.3,52.7),(123.05,51.3),(124.75,51.55),(126.3,51.4),(125.4,50.4),(124.5,48.4),(123.2,47.35),(123.7,46.3)]
P_IM_JILIN = [(123.7,46.3),(121.9,45.9),(122.65,44.75),(123.3,43.55)]
P_JILIN_HEILONG = [(123.7,46.3),(123.7,45.8),(126.1,45.25),(127.5,44.6),(130,44.5),(131.2,44.75)]
P_LIAONING_JILIN = [(123.3,43.55),(125.3,42.65),(126.3,40.95)]

PANEL_LINES = [BORDER_WEST,BORDER_NORTH,COAST_CHINA,COAST_VIETNAM,COAST_INDIA,COAST_KUTCH,COAST_BENGAL,COAST_KOREA,COAST_RUSSIA,COAST_OKHOTSK,ISLE_HONSHU,ISLE_SHIKOKU,ISLE_KYUSHU,ISLE_CHEJU,ISLE_TAIWAN,ISLE_HAINAN,ISLE_RYUKYU,ISLE_AMAMI,ISLE_SAKISHIMA,YANGTZE,P_XJ_TIBET,P_GANSU_QINGHAI,P_GANSU_IM,P_TIBET_QINGHAI,P_TIBET_SICHUAN,P_QINGHAI_SICHUAN,P_SICHUAN_GANSU,P_SICHUAN_SHAANXI,P_SICHUAN_YUNNAN,P_NINGXIA,P_GANSU_SHAANXI,P_SHAANXI_IM,P_SHAANXI_SHANXI,P_SHANXI_IM,P_HEBEI_IM,P_HEBEI_LIAONING,P_HEBEI_SHANXI,P_SHANXI_HENAN,P_HENAN_SHANDONG,P_BEIJING,P_TIANJIN,P_HENAN_ANHUI,P_HENAN_HUBEI,P_HUBEI_WEST,P_CHONGQING,P_CHONGQING_S,P_GUIZHOU,P_GUANGXI,P_GUANGDONG,P_HUNAN_JIANGXI,P_HUBEI_S,P_JIANGXI_FUJIAN,P_JIANGXI_ANHUI,P_ZHEJIANG_FUJIAN,P_ZHEJIANG_ANHUI,P_ANHUI_JIANGSU,P_IM_HEILONG,P_IM_JILIN,P_JILIN_HEILONG,P_LIAONING_JILIN]

# ---------- panel C ----------
C_SOUTH = [0.11,-0.19,0.21,-0.43,-0.2,0.07,-0.12,-0.28,-0.26,0.15,-0.37,0.17,0.16,-0.54,-0.17,0.16,0.075,0.13,-0.26,0.61,-0.06,0.10,0.05,0.12,0.24,-0.43,-0.03,0.23,0.015,-0.37,0,-0.08,-0.23,0.01,0.21,-0.01,-0.30,0.57,0.41,0.55]
C_SOUTH_HI = [0.30,0.13,0.43,-0.2,0.15,0.32,0.09,-0.06,-0.02,0.28,-0.1,0.34,0.28,-0.2,0.2,0.42,0.28,0.29,-0.03,0.75,0.28,0.29,0.24,0.3,0.41,-0.25,0.33,0.52,0.35,-0.17,0.32,0.26,0.09,0.33,0.52,0.38,0.21,0.81,0.62,0.96]
C_SOUTH_LO = [-0.30,-0.49,0.03,-0.65,-0.55,-0.17,-0.30,-0.43,-0.48,0.01,-0.52,0.03,0.01,-0.74,-0.45,-0.02,-0.07,-0.02,-0.41,0.35,-0.31,-0.09,-0.09,-0.03,0.08,-0.73,-0.35,-0.06,-0.2,-0.63,-0.3,-0.41,-0.54,-0.4,-0.24,-0.38,-0.57,0.28,0.17,0.18]
C_NORTH = [-0.57,-0.45,0.07,-0.68,-0.76,-0.40,-0.2,-0.61,-0.56,0.24,-0.59,0.05,0.15,-0.69,-0.51,0.82,-0.05,-0.09,0.15,0.56,0.32,0.64,0.32,0.29,-0.25,-0.34,0.26,0.29,0.09,-0.09,-0.57,0.56,0.21,0.31,0.61,-0.19,-0.28,0.66,0.35,1.19]
C_NORTH_HI = [-0.2,-0.25,0.4,-0.32,-0.47,-0.14,0.16,-0.28,-0.23,0.49,-0.2,0.28,0.26,-0.35,-0.1,1.37,0.16,0.11,0.38,0.78,0.64,0.84,0.56,0.76,0.09,-0.01,0.48,0.7,0.35,0.23,-0.2,0.91,0.59,0.67,1.0,0.24,0.09,1.11,0.64,1.54]
C_NORTH_LO = [-0.79,-0.75,-0.2,-0.94,-0.93,-0.64,-0.53,-0.77,-0.73,-0.06,-0.87,-0.17,0.04,-0.94,-0.7,0.22,-0.25,-0.32,-0.06,0.34,-0.01,0.39,0.09,-0.3,-0.55,-0.58,0.04,-0.08,-0.18,-0.42,-1.03,0.26,-0.01,-0.05,0.2,-0.52,-0.71,0.33,0.07,0.43]
C_TREND_YEARS = [1979, 2018]
C_TREND_SOUTH = [-0.14, 0.14]
C_TREND_NORTH = [-0.45, 0.45]

# ---------- panel D ----------
D_PRD = [25.64,25.88,25.54,25.68,26.09,25.69,25.49,25.83,25.78,25.8,25.7,26.03,25.9,25.49,26.22,25.6,25.81,25.96,25.75,26.4,26.12,25.78,25.86,26.05,25.9,25.86,25.61,25.71,25.73,24.97,25.62,25.47,25.61,25.75,25.85,26.31,26.26,26.62,26.59,26.12]
D_PRD_HI = [25.75,25.95,25.65,25.8,26.15,25.8,25.6,25.9,25.85,25.9,25.85,26.2,26.05,25.7,26.42,25.85,25.95,26.1,25.95,26.6,26.25,25.92,25.95,26.12,26.05,26.02,26.0,26.15,25.95,25.4,25.8,25.75,25.85,25.95,26.0,26.6,26.5,26.75,26.7,26.4]
D_PRD_LO = [25.55,25.8,25.5,25.6,25.95,25.6,25.42,25.72,25.7,25.72,25.55,25.85,25.72,25.28,25.95,25.42,25.65,25.8,25.52,26.1,25.9,25.65,25.75,25.9,25.85,25.65,25.27,25.27,25.25,24.65,25.35,25.07,25.2,25.5,25.7,26.02,26.05,26.45,26.45,25.9]
D_YRD = [23.97,23.39,23.9,23.07,23.24,24.28,23.75,23.56,23.2,23.95,23.08,24.67,23.83,22.93,23.36,24.52,23.64,24.02,23.68,24.31,22.91,23.96,23.87,23.83,24.14,23.48,23.73,24.26,24.17,23.71,23.9,23.65,23.74,23.75,24.02,23.25,23.22,24.58,24.48,24.54]
D_YRD_HI = [24.4,24.15,24.38,23.8,23.9,24.85,24.25,24.18,23.75,24.5,23.75,25.22,24.55,23.5,24.0,24.98,24.3,24.52,24.25,24.8,23.65,24.4,24.35,24.35,24.82,24.08,24.35,24.9,24.78,24.3,24.5,24.15,24.42,24.35,24.72,23.85,23.75,25.05,24.93,24.93]
D_YRD_LO = [23.6,22.95,23.45,22.65,22.85,23.85,23.3,23.15,22.85,23.5,22.6,24.3,23.3,22.5,22.9,24.05,23.2,23.6,23.25,23.9,22.4,23.55,23.45,23.4,23.7,23.0,23.3,23.75,23.6,23.25,23.45,23.15,23.25,23.3,23.5,22.85,22.85,24.2,24.1,24.2]
D_SCB = [23.29,22.65,23.51,22.36,22.62,23.2,23.0,22.77,22.69,23.3,22.74,23.23,23.38,22.59,22.47,23.57,23.49,23.49,23.03,23.53,23.01,23.1,22.91,23.32,23.01,22.19,22.74,23.37,22.98,22.55,22.77,23.1,22.57,22.75,23.53,22.64,22.42,23.59,23.22,23.77]
D_SCB_HI = [23.85,23.15,24.15,23.0,23.2,23.75,23.6,23.35,23.3,23.85,23.3,23.95,24.05,23.2,23.05,24.4,24.2,24.3,23.7,24.15,23.55,23.8,23.6,24.0,23.7,22.85,23.35,23.8,23.85,23.45,23.6,23.75,23.3,23.45,24.3,23.4,23.1,24.0,23.7,24.1]
D_SCB_LO = [22.7,22.3,22.9,21.9,22.15,22.65,22.6,22.3,22.35,22.8,22.3,22.75,22.9,22.25,22.05,23.0,22.9,22.95,22.6,22.9,22.5,22.7,22.45,22.85,22.55,21.7,22.2,22.85,22.35,21.9,21.8,22.0,21.95,22.05,22.65,22.3,21.85,23.15,22.75,23.3]
D_BTH = [20.3,20.86,21.02,20.34,20.37,20.79,21.03,20.23,20.52,20.98,19.94,21.1,21.09,19.97,20.34,22.38,20.86,20.53,21.43,21.34,21.16,21.7,21.37,20.69,20.38,20.02,21.33,20.9,21.17,21.1,20.37,21.17,21.18,20.76,21.61,20.62,20.4,21.34,21.1,22.47]
D_BTH_HI = [21.35,21.75,21.95,21.15,21.1,21.7,21.97,21.2,21.5,21.88,21.05,22.1,22.0,20.95,21.25,23.25,21.95,21.55,22.15,22.3,22.0,22.5,22.25,21.5,21.15,20.75,22.2,21.85,22.05,21.85,21.5,21.9,21.9,21.6,22.6,21.5,21.45,22.25,21.95,23.45]
D_BTH_LO = [19.85,20.2,20.7,20.0,20.05,20.3,20.45,19.65,20.05,20.55,19.6,20.55,20.6,19.55,20.0,21.2,20.35,20.05,20.9,20.85,20.75,21.35,20.95,20.25,20.2,19.65,20.75,20.4,20.55,20.65,20.25,20.9,20.9,20.55,20.85,19.95,19.6,20.85,20.6,22.3]
D_TREND_BTH = [20.6, 21.22]
D_TREND_YRD = [23.58, 24.0]
D_TREND_SCB = [22.98, 23.07]
D_TREND_PRD = [25.7, 26.0]

# ---------- styling ----------
ORANGE, BLUE, PURPLE, GREY = "#e6561f", "#2a7db8", "#8a50a6", "#5c5c5c"
ORANGE_FILL, BLUE_FILL = "rgba(240,110,60,0.22)", "rgba(60,135,190,0.22)"
PURPLE_FILL, GREY_FILL = "rgba(140,90,170,0.2)", "rgba(110,110,110,0.22)"
FONT = "Liberation Sans"
B_BINS = ["#3a53a4","#4a6ab0","#5b90c9","#74b9e7","#82d0f5","#a4dcef","#b6e3f1","#d7edf3",
          "#f7ea47","#ffe600","#fdb913","#f7941d","#f15a24","#ee2024","#d4202a","#9e1c20"]
B_SCALE = []
for i, c in enumerate(B_BINS):
    B_SCALE += [[i / 16, c], [(i + 1) / 16, c]]

def px(x): return x / W
def py(y): return 1 - y / H

def flat(lines):
    xs, ys = [], []
    for ln in lines:
        xs += [p[0] for p in ln] + [None]
        ys += [p[1] for p in ln] + [None]
    return xs, ys

A_ALL = A_XINJIANG + A_PLATEAU + A_YUNNAN + A_NORTHEAST + A_NORTH + A_LOESS + A_CENTRAL + A_SOUTH + A_MID_FILL + A_COAST_FILL + A_BASIN_FILL
B_ALL = B_WEST + B_NORTHEAST + B_NORTH + B_CENTRAL + B_SOUTH
LINES_X, LINES_Y = flat(PANEL_LINES)

fig = go.Figure()

def colorbar(cx, tickvals):
    return dict(orientation="h", x=px(cx), xanchor="center", y=py(631), yanchor="top",
                lenmode="pixels", len=853, thicknessmode="pixels", thickness=12,
                xpad=0, ypad=0, outlinewidth=3, outlinecolor="black",
                ticks="outside", ticklen=6, tickwidth=2, tickcolor="black",
                tickvals=tickvals, tickformat=".1f",
                tickfont=dict(size=30, family=FONT, color="black"))

fig.add_trace(go.Scatter(x=[p[0] for p in A_ALL], y=[p[1] for p in A_ALL], mode="markers", xaxis="x", yaxis="y",
    marker=dict(size=10, color=[p[2] for p in A_ALL], colorscale="Viridis", cmin=5, cmax=25,
                colorbar=colorbar(545, [5,7.5,10,12.5,15,17.5,20,22.5,25]))))
fig.add_trace(go.Scatter(x=LINES_X, y=LINES_Y, mode="lines", xaxis="x", yaxis="y", line=dict(color="black", width=1.2)))
fig.add_trace(go.Scatter(x=[p[0] for p in B_ALL], y=[p[1] for p in B_ALL], mode="markers", xaxis="x2", yaxis="y2",
    marker=dict(size=11.5, color=[p[2] for p in B_ALL], colorscale=B_SCALE, cmin=-0.4, cmax=0.4,
                colorbar=colorbar(1550.5, [-0.4,-0.3,-0.2,-0.1,0,0.1,0.2,0.3,0.4]))))
fig.add_trace(go.Scatter(x=LINES_X, y=LINES_Y, mode="lines", xaxis="x2", yaxis="y2", line=dict(color="black", width=1.2)))
fig.add_trace(go.Scatter(x=[70, 137], y=[33, 33], mode="lines", xaxis="x2", yaxis="y2",
    line=dict(color="#222", width=5, dash="19px,8px")))

def band(x_ax, y_ax, hi, lo, fill):
    fig.add_trace(go.Scatter(x=YEARS + YEARS[::-1], y=hi + lo[::-1], mode="lines", fill="toself", fillcolor=fill,
                             line=dict(width=0), xaxis=x_ax, yaxis=y_ax))

def series(x_ax, y_ax, vals, trend, color, lw, tw):
    fig.add_trace(go.Scatter(x=C_TREND_YEARS, y=trend, mode="lines", xaxis=x_ax, yaxis=y_ax,
                             line=dict(color=color, width=tw, dash="24px,9px")))
    fig.add_trace(go.Scatter(x=YEARS, y=vals, mode="lines", xaxis=x_ax, yaxis=y_ax,
                             line=dict(color=color, width=lw, shape="linear")))

band("x3","y3",C_SOUTH_HI,C_SOUTH_LO,ORANGE_FILL)
band("x3","y3",C_NORTH_HI,C_NORTH_LO,BLUE_FILL)
series("x3","y3",C_SOUTH,C_TREND_SOUTH,ORANGE,6.5,5.5)
series("x3","y3",C_NORTH,C_TREND_NORTH,BLUE,6.5,5.5)

band("x4","y4",D_BTH_HI,D_BTH_LO,GREY_FILL)
band("x4","y4",D_SCB_HI,D_SCB_LO,PURPLE_FILL)
band("x4","y4",D_YRD_HI,D_YRD_LO,ORANGE_FILL)
band("x4","y4",D_PRD_HI,D_PRD_LO,BLUE_FILL)
series("x4","y4",D_BTH,D_TREND_BTH,GREY,6.5,4.5)
series("x4","y4",D_SCB,D_TREND_SCB,PURPLE,6.5,4.5)
series("x4","y4",D_YRD,D_TREND_YRD,ORANGE,6.5,5.5)
series("x4","y4",D_PRD,D_TREND_PRD,BLUE,6.5,5.5)

def axis(dom, rng, vals, text=None, title=None, anchor=None, size=26, standoff=8, ticklen=7, label_shift=0):
    d = dict(domain=dom, range=rng, tickvals=vals, showgrid=False, zeroline=False, showline=True, mirror=True,
             linecolor="black", linewidth=3, ticks="outside", ticklen=ticklen, tickwidth=2.5, tickcolor="black",
             tickfont=dict(size=size, family=FONT, color="black"), anchor=anchor, automargin=False, fixedrange=True,
             ticklabelstandoff=label_shift)
    if text: d["ticktext"] = text
    if title: d["title"] = dict(text=title, font=dict(size=30, family=FONT, color="#222"), standoff=standoff)
    return d

YR_TICKS = list(range(1979, 2019, 4))
layout = dict(width=W, height=H, margin=dict(l=0, r=0, t=0, b=0), paper_bgcolor="white", plot_bgcolor="white",
              showlegend=False, hovermode=False, font=dict(family=FONT))
for n, x0, x1 in (("", 118.4, 971.5), ("2", 1124, 1977)):
    layout["xaxis"+n] = axis([px(x0), px(x1)], [70, 137], [70,90,110,130], ["70°E","90°E","110°E","130°E"],
                             anchor="y"+n, size=30, ticklen=8, label_shift=-5)
    layout["yaxis"+n] = axis([py(575), py(67)], [15, 55], [15,35,55], ["15°N","35°N","55°N"],
                             anchor="x"+n, size=31, ticklen=8)
layout["xaxis3"] = axis([px(117), px(988.5)], [1979, 2018], YR_TICKS, [str(y) for y in YR_TICKS], "Year", "y3", standoff=12, label_shift=-11)
layout["yaxis3"] = axis([py(1323.7), py(777)], [-1.193, 2.0], [-1,-0.5,0,0.5,1,1.5,2], title="Tw anomaly ( ° C)", anchor="x3", standoff=2)
layout["yaxis3"]["tickformat"] = ".1f"
layout["xaxis4"] = axis([px(1127.6), px(2000)], [1979, 2018], YR_TICKS, [str(y) for y in YR_TICKS], "Year", "y4", standoff=12, label_shift=-11)
layout["yaxis4"] = axis([py(1323.7), py(777)], [19, 28], list(range(19,29)), title="Tw ( ° C)", anchor="x4", standoff=1)

BOXES = [("BTH",115,120,38,41,118.35,36.0),("SCB",103,107,29,32,107.0,27.1),
         ("YRD",118,123,29,33,124.75,27.5),("PRD",112,115,21.5,24,115.8,19.75)]
layout["shapes"] = [dict(type="rect", xref="x", yref="y", x0=b[1], x1=b[2], y0=b[3], y1=b[4],
                         line=dict(color="#111", width=4.5)) for b in BOXES]

ann = []
for b in BOXES:
    ann.append(dict(text=f"<b>{b[0]}</b>", x=b[5], y=b[6], xref="x", yref="y", showarrow=False, xanchor="center",
                    font=dict(size=30, family=FONT, color="#333")))
for t, x, y in (("A",116,34),("B",1128,34),("C",118,745),("D",1131,745)):
    ann.append(dict(text=f"<b>{t}</b>", x=px(x), y=py(y), xref="paper", yref="paper", xanchor="left", yanchor="middle",
                    showarrow=False, font=dict(size=75, family=FONT, color="#231f20")))
for t, x, y, c in (("0.07 k/decade (p<0.05) South",158,819,ORANGE),("0.23 k/decade (p<0.05) North",158,854,BLUE),
                   ("0.16 k/decade BTH",1303.5,799,GREY),("0.11 k/decade YRD",1303.5,830,ORANGE),
                   ("0.02 k/decade SCB",1617.5,799,PURPLE),("0.08 k/decade PRD",1617.5,830,BLUE)):
    ann.append(dict(text=t.replace("<","&lt;"), x=px(x), y=py(y), xref="paper", yref="paper", xanchor="left", yanchor="middle",
                    showarrow=False, font=dict(size=26, family=FONT, color=c)))
for t, x in (("°C", 526), ("k / decade", 1550.5)):
    ann.append(dict(text=t, x=px(x), y=py(706), xref="paper", yref="paper", showarrow=False, xanchor="center", yanchor="middle",
                    font=dict(size=36, family=FONT, color="#222")))
layout["annotations"] = ann
fig.update_layout(**layout)
fig.write_html("out.html", config={"displayModeBar": False}, post_script="document.body.style.margin='0';")
